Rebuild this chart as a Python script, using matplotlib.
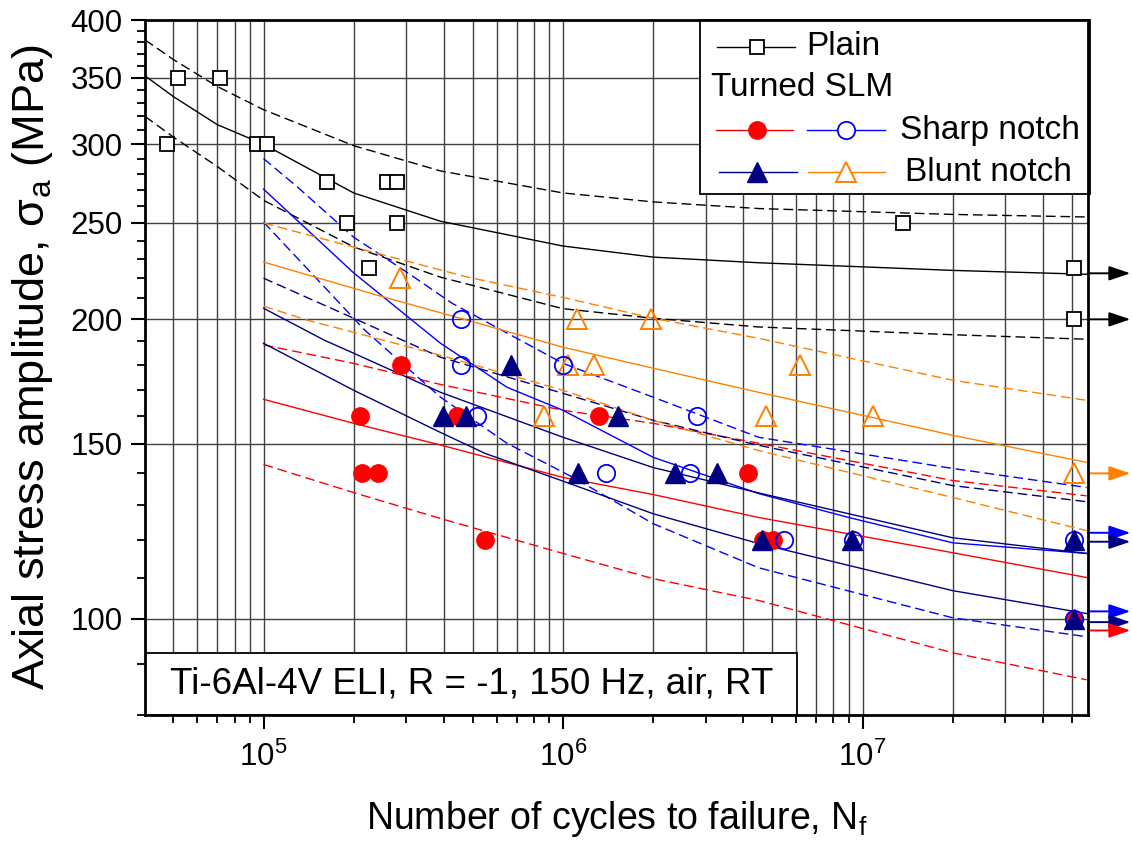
import numpy as np
import matplotlib
matplotlib.use('Agg')
import matplotlib.pyplot as plt
from matplotlib.patches import Rectangle
from matplotlib.ticker import LogLocator, NullFormatter, FixedLocator

plt.rcParams['font.family'] = ['Liberation Sans', 'DejaVu Sans']
plt.rcParams['mathtext.fontset'] = 'custom'
plt.rcParams['mathtext.rm'] = 'Liberation Sans'
plt.rcParams['mathtext.it'] = 'Liberation Sans:italic'

# ---- test data (N cycles, stress amplitude MPa) ----
plain_N = [5.18e4, 7.16e4, 4.77e4, 9.5e4, 1.03e5, 1.63e5, 2.58e5, 2.79e5, 1.90e5, 2.79e5, 2.25e5, 1.36e7]
plain_S = [350, 350, 300, 300, 300, 275, 275, 275, 250, 250, 225, 250]
plain_run_N = [5.08e7, 5.08e7]
plain_run_S = [225, 200]

red_N = [2.88e5, 2.10e5, 4.43e5, 2.13e5, 2.41e5, 5.5e5, 1.32e6, 4.14e6, 4.64e6, 5.04e6]
red_S = [180, 160, 160, 140, 140, 120, 160, 140, 120, 120]
red_run_N = [5.08e7]
red_run_S = [100]

blue_N = [4.56e5, 4.56e5, 5.16e5, 1.0e6, 1.39e6, 2.8e6, 2.66e6, 5.47e6, 9.3e6]
blue_S = [200, 180, 160, 180, 140, 160, 140, 120, 120]
blue_run_N = [5.08e7, 5.08e7]
blue_run_S = [120, 100]

navy_N = [3.97e5, 4.74e5, 6.7e5, 1.53e6, 1.12e6, 2.37e6, 3.27e6, 4.62e6, 9.2e6]
navy_S = [160, 160, 180, 160, 140, 140, 140, 120, 120]
navy_run_N = [5.08e7, 5.08e7]
navy_run_S = [120, 100]

orange_N = [2.86e5, 1.11e6, 1.97e6, 1.04e6, 1.27e6, 8.65e5, 6.18e6, 4.76e6, 1.08e7]
orange_S = [220, 200, 200, 180, 180, 160, 180, 160, 160]
orange_run_N = [5.08e7]
orange_run_S = [140]

# ---- fitted curves and scatter bands ----
plain_fit_N = [4.02e4, 5e4, 7e4, 1e5, 2e5, 3.9e5, 1e6, 2e6, 4.5e6, 2e7, 5.6e7]
plain_mean = [351.5, 335, 314, 300, 268, 251, 237, 231, 228, 224, 222]
plain_upper = [382, 365, 343, 325, 299, 282, 268, 262.5, 258.5, 255, 253.5]
plain_lower = [320, 305, 285, 263.5, 236.5, 220.5, 205, 200.5, 196.5, 193, 191]

red_fit_N = [1e5, 2e5, 3.9e5, 1e6, 2e6, 4.5e6, 2e7, 5.6e7]
red_mean = [166.2, 157.2, 149.5, 138.7, 133.3, 126.4, 116.5, 110.0]
red_upper = [188.5, 180.6, 172.0, 162.0, 157.2, 150.1, 137.7, 132.9]
red_lower = [142.9, 133.9, 126.1, 116.3, 109.7, 104.3, 92.4, 86.8]

blue_mean_N = [1e5, 2e5, 3.9e5, 6.5e5, 1e6, 2e6, 4.5e6, 9e6, 2e7, 5.6e7]
blue_mean = [270.4, 222.7, 189.2, 170.9, 162.0, 145.3, 133.6, 126.4, 119.2, 116.3]
blue_upper_N = [1e5, 1.3e5, 2e5, 3.04e5, 4.26e5, 1e6, 2e6, 4.5e6, 2e7, 5.6e7]
blue_upper = [290.2, 271.6, 241.9, 222.6, 207.6, 180.6, 167.0, 152.2, 141.6, 135.5]
blue_lower_N = [1e5, 1.52e5, 2.18e5, 3.01e5, 3.9e5, 6.5e5, 1.08e6, 2e6, 4.5e6, 2e7, 5.6e7]
blue_lower = [250.5, 219.0, 195.0, 178.9, 167.0, 150.1, 138.7, 124.6, 112.5, 100.2, 95.9]

navy_upper_N = [1e5, 2.18e5, 3.9e5, 1e6, 2e6, 4.5e6, 2e7, 5.6e7]
navy_upper = [220.0, 198.2, 183.2, 168.5, 158.3, 149.4, 136.1, 131.1]
navy_mean_N = [1e5, 1.6e5, 2e5, 3.9e5, 1e6, 2e6, 4.5e6, 2e7, 5.6e7]
navy_mean = [205.2, 190.5, 184.9, 168.9, 152.2, 141.9, 133.8, 120.6, 116.3]
navy_lower_N = [1e5, 2e5, 3.9e5, 5.5e5, 1e6, 2e6, 4.5e6, 2e7, 5.6e7]
navy_lower = [189.2, 169.7, 153.9, 146.6, 137.5, 127.5, 119.0, 106.7, 101.2]

orange_mean_N = [1e5, 1.49e5, 2.41e5, 4.82e5, 1e6, 2e6, 4.5e6, 2e7, 5.6e7]
orange_mean = [228.4, 220.5, 211.4, 199.5, 187.5, 178.6, 168.9, 152.9, 143.6]
orange_upper_N = [1e5, 2e5, 4.82e5, 1e6, 2e6, 4.5e6, 2e7, 5.6e7]
orange_upper = [250.0, 236.4, 220.5, 210.4, 200.5, 191.4, 173.7, 165.8]
orange_lower_N = [1e5, 1.41e5, 2e5, 3.9e5, 1e6, 2e6, 4.5e6, 2e7, 5.6e7]
orange_lower = [206.2, 199.5, 194.1, 184.0, 169.7, 158.3, 147.6, 132.4, 122.6]

# runout arrows (slightly offset so they do not overlap)
arrow_S = [222.5, 200, 140, 122, 119.5, 101.7, 99.2, 97.3]
arrow_c = ['k', 'k', '#FF8000', '#0000FF', '#000080', '#0000FF', '#000080', '#FF0000']

RED, BLUE, NAVY, ORANGE = '#FF0000', '#0000FF', '#000080', '#FF8000'
dash = (0, (7, 3.5))

fig = plt.figure(figsize=(11.32, 8.41), dpi=100)
ax = fig.add_axes([0.1281, 0.1498, 0.8330, 0.8264])
ax.set_xscale('log')
ax.set_yscale('log')
ax.set_xlim(4.02e4, 5.66e7)
ax.set_ylim(80, 400)

# curves
lw = 1.0
ax.plot(plain_fit_N, plain_mean, color='k', lw=lw, zorder=3)
ax.plot(plain_fit_N, plain_upper, color='k', lw=lw, ls=dash, zorder=3)
ax.plot(plain_fit_N, plain_lower, color='k', lw=lw, ls=dash, zorder=3)
ax.plot(red_fit_N, red_mean, color=RED, lw=lw, zorder=3)
ax.plot(red_fit_N, red_upper, color=RED, lw=lw, ls=dash, zorder=3)
ax.plot(red_fit_N, red_lower, color=RED, lw=lw, ls=dash, zorder=3)
ax.plot(blue_mean_N, blue_mean, color=BLUE, lw=lw, zorder=3)
ax.plot(blue_upper_N, blue_upper, color=BLUE, lw=lw, ls=dash, zorder=3)
ax.plot(blue_lower_N, blue_lower, color=BLUE, lw=lw, ls=dash, zorder=3)
ax.plot(navy_upper_N, navy_upper, color=NAVY, lw=lw, ls=dash, zorder=3)
ax.plot(navy_mean_N, navy_mean, color=NAVY, lw=lw, zorder=3)
ax.plot(navy_lower_N, navy_lower, color=NAVY, lw=lw, zorder=3)
ax.plot(orange_mean_N, orange_mean, color=ORANGE, lw=lw, zorder=3)
ax.plot(orange_upper_N, orange_upper, color=ORANGE, lw=lw, ls=dash, zorder=3)
ax.plot(orange_lower_N, orange_lower, color=ORANGE, lw=lw, ls=dash, zorder=3)

# points
sq = dict(marker='s', ms=10, mfc='white', mec='k', mew=1.3, ls='none', zorder=4)
ax.plot(plain_N + plain_run_N, plain_S + plain_run_S, **sq)
ax.plot(orange_N + orange_run_N, orange_S + orange_run_S, marker='^', ms=14, mfc='none',
        mec=ORANGE, mew=1.4, ls='none', zorder=4)
ax.plot(red_N + red_run_N, red_S + red_run_S, marker='o', ms=12.5, mfc=RED, mec=RED,
        ls='none', zorder=4)
ax.plot(blue_N + blue_run_N, blue_S + blue_run_S, marker='o', ms=12.5, mfc='none',
        mec=BLUE, mew=1.3, ls='none', zorder=4)
ax.plot(navy_N + navy_run_N, navy_S + navy_run_S, marker='^', ms=14, mfc=NAVY, mec=NAVY,
        ls='none', zorder=5)

for s, c in zip(arrow_S, arrow_c):
    ax.annotate('', xy=(1.045, s), xytext=(1.0, s),
                xycoords=('axes fraction', 'data'), textcoords=('axes fraction', 'data'),
                arrowprops=dict(arrowstyle='-|>,head_length=0.65,head_width=0.22',
                                color=c, lw=1.4, mutation_scale=20, shrinkA=0, shrinkB=0),
                annotation_clip=False)

# axes styling
ax.set_yticks([100, 150, 200, 250, 300, 350, 400])
ax.set_yticklabels(['100', '150', '200', '250', '300', '350', '400'])
ax.yaxis.set_minor_locator(FixedLocator(np.arange(80, 401, 10)))
ax.yaxis.set_minor_formatter(NullFormatter())
ax.set_xticks([1e5, 1e6, 1e7])
ax.set_xticklabels([r'10$^{5}$', r'10$^{6}$', r'10$^{7}$'])
ax.xaxis.set_minor_locator(LogLocator(base=10, subs=np.arange(2, 10), numticks=20))
ax.xaxis.set_minor_formatter(NullFormatter())

ax.tick_params(which='major', direction='out', length=10, width=1.5, labelsize=22.5)
ax.tick_params(which='minor', direction='out', length=5.5, width=1.3)
ax.tick_params(axis='y', pad=6)
ax.tick_params(axis='x', pad=9)
for sp in ax.spines.values():
    sp.set_linewidth(2)
    sp.set_zorder(10)

ax.grid(True, which='both', axis='x', color='0.25', lw=1.0)
ax.grid(True, which='major', axis='y', color='0.25', lw=1.0)
ax.set_axisbelow(True)

ax.set_xlabel(r'Number of cycles to failure, N$_\mathregular{f}$', fontsize=27, labelpad=19)
ax.set_ylabel(r'Axial stress amplitude, σ$_\mathregular{a}$ (MPa)', fontsize=32.5, labelpad=11)

# info box
ax.add_patch(Rectangle((0, 0), 0.6914, 0.0892, transform=ax.transAxes, fc='white',
                       ec='k', lw=1.3, zorder=8))
ax.text(0.3468, 0.0446, 'Ti-6Al-4V ELI, R = -1, 150 Hz, air, RT', transform=ax.transAxes,
        ha='center', va='center', fontsize=26.5, zorder=9)

# legend (drawn by hand to keep the two-handle layout)
ax.add_patch(Rectangle((0.5886, 0.7496), 0.4135, 0.2504, transform=ax.transAxes,
                       fc='white', ec='k', lw=1.3, zorder=8, clip_on=False))
T = ax.transAxes
kw = dict(transform=T, zorder=9, clip_on=False)
ax.plot([0.6066, 0.6893], [0.9612, 0.9612], color='k', lw=1, **kw)
ax.plot([0.649], [0.9612], marker='s', ms=10, mfc='white', mec='k', mew=1.3, **kw)
ax.text(0.701, 0.9612, 'Plain', fontsize=24, va='center', transform=T, zorder=9)
ax.text(0.600, 0.9022, 'Turned SLM', fontsize=24, va='center', transform=T, zorder=9)
ax.plot([0.6055, 0.6872], [0.8417, 0.8417], color=RED, lw=1, **kw)
ax.plot([0.649], [0.8417], marker='o', ms=12.5, mfc=RED, mec=RED, **kw)
ax.plot([0.702, 0.7847], [0.8417, 0.8417], color=BLUE, lw=1, **kw)
ax.plot([0.7437], [0.8417], marker='o', ms=12.5, mfc='white', mec=BLUE, mew=1.3, **kw)
ax.text(0.8006, 0.8417, 'Sharp notch', fontsize=24, va='center', transform=T, zorder=9)
ax.plot([0.6087, 0.6914], [0.7813, 0.7813], color=NAVY, lw=1, **kw)
ax.plot([0.649], [0.7813], marker='^', ms=14, mfc=NAVY, mec=NAVY, **kw)
ax.plot([0.7031, 0.7847], [0.7813, 0.7813], color=ORANGE, lw=1, **kw)
ax.plot([0.7437], [0.7813], marker='^', ms=14, mfc='white', mec=ORANGE, mew=1.4, **kw)
ax.text(0.806, 0.7813, 'Blunt notch', fontsize=24, va='center', transform=T, zorder=9)

fig.savefig('out.png', dpi=100)
